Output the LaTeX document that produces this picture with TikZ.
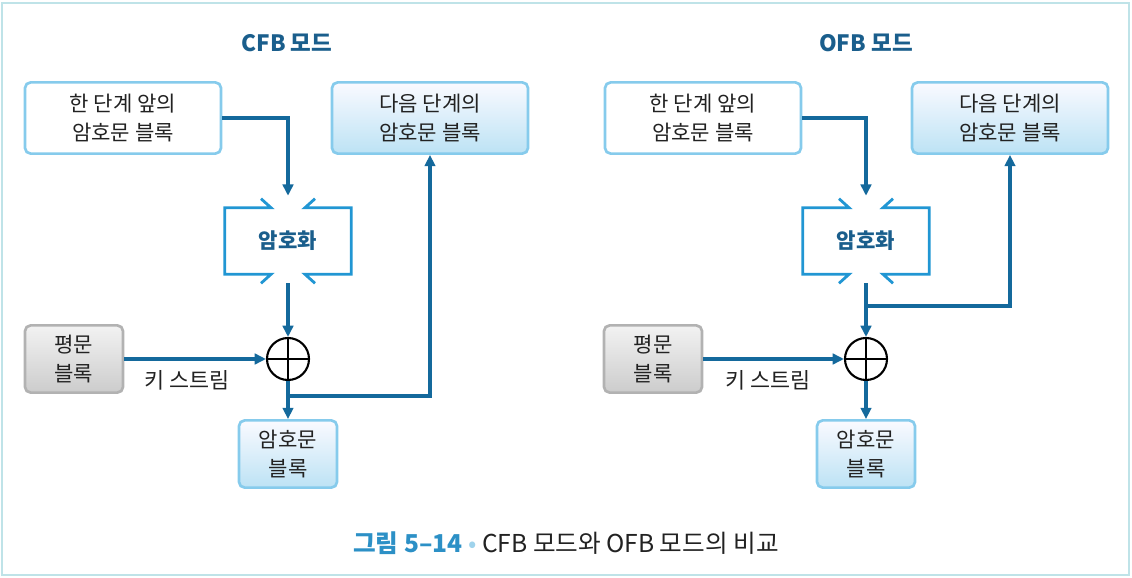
\documentclass[tikz,border=0pt]{standalone}
\usepackage{fontspec}
\setmainfont{Noto Sans CJK KR}
\usetikzlibrary{positioning,calc,arrows.meta}

\definecolor{flowblue}{HTML}{14699C}
\definecolor{edgeblue}{HTML}{86CBEC}
\definecolor{encblue}{HTML}{2196D3}
\definecolor{titleblue}{HTML}{1A5E8C}
\definecolor{capblue}{HTML}{2C90C6}
\definecolor{dotblue}{HTML}{9FD3EC}
\definecolor{framecol}{HTML}{BFE3E8}
\definecolor{textgray}{HTML}{222222}

\tikzset{
  block/.style={
    draw=edgeblue,
    line width=1.9pt,
    rounded corners=4pt,
    align=center,
    inner sep=0pt,
    text=textgray,
    font=\fontsize{15}{20.5}\selectfont
  },
  wideblock/.style={block, minimum width=4.9cm, minimum height=1.78cm},
  smallblock/.style={block, minimum width=2.45cm, minimum height=1.68cm},
  bluefill/.style={top color=blue!2!white, bottom color=edgeblue!55!white},
  grayfill/.style={draw=black!30, top color=black!5, bottom color=black!20},
  flow/.style={draw=flowblue, line width=2.5pt, -{Triangle[length=8pt,width=7.5pt]}},
  encline/.style={draw=encblue, line width=2pt},
  xor/.style={circle, draw=black, line width=1.5pt, minimum size=1.05cm, inner sep=0pt},
  heading/.style={text=titleblue, font=\fontsize{16}{18}\selectfont\bfseries}
}

\begin{document}
\begin{tikzpicture}[x=0.025cm, y=-0.025cm]

\useasboundingbox (0,0) rectangle (1132,578);
\draw[framecol, line width=1.5pt] (2,3) rectangle (1129,575);

% CFB
\node[heading] (CTitle) at (287, 43) {CFB 모드};

\node[wideblock, fill=white] (CPrev) at (123, 118) {한 단계 앞의\\암호문 블록};
\node[wideblock, bluefill] (CNext) at (430, 118) {다음 단계의\\암호문 블록};

\node[
    minimum width=3.15cm,
    minimum height=1.65cm,
    text=titleblue,
    font=\fontsize{15}{17}\selectfont\bfseries
  ] (CEnc) at (288, 241) {암호화};

  \draw[encline] ($ (CEnc.north) + (-27, -9) $) -- ($ (CEnc.north) + (-17, 0) $)
    -- (CEnc.north west) -- (CEnc.south west)
    -- ($ (CEnc.south) + (-17, 0) $) -- ($ (CEnc.south) + (-27, 9) $);
  \draw[encline] ($ (CEnc.north) + (27, -9) $) -- ($ (CEnc.north) + (17, 0) $)
    -- (CEnc.north east) -- (CEnc.south east)
    -- ($ (CEnc.south) + (17, 0) $) -- ($ (CEnc.south) + (27, 9) $);

\coordinate (CEncIn) at ($ (CEnc.north) + (0, -12) $);
\coordinate (CEncOut) at ($ (CEnc.south) + (0, 9) $);

\node[xor] (CXor) at (288, 359) {};
  \draw[line width=1.5pt] (CXor.north) -- (CXor.south) (CXor.west) -- (CXor.east);

\node[smallblock, grayfill] (CPlain) at (74, 359) {평문\\블록};
\node[text=textgray, font=\fontsize{15.5}{17}\selectfont] (CKey) at (187, 380) {키 스트림};
\node[smallblock, bluefill] (CCipher) at (288, 454) {암호문\\블록};

\coordinate (CJoin) at ($ (CXor.south) + (0, 15) $);

\draw[flow] (CPrev.east) -| (CEncIn);
\draw[flow] (CEncOut) -- (CXor.north);
\draw[flow] (CPlain.east) -- (CXor.west);
\draw[flow] (CXor.south) -- (CCipher.north);
\draw[flow] (CJoin) -| (CNext.south);

% OFB
\node[heading] (OTitle) at (866, 43) {OFB 모드};

\node[wideblock, fill=white] (OPrev) at (703, 118) {한 단계 앞의\\암호문 블록};
\node[wideblock, bluefill] (ONext) at (1010, 118) {다음 단계의\\암호문 블록};

\node[
    minimum width=3.15cm,
    minimum height=1.65cm,
    text=titleblue,
    font=\fontsize{15}{17}\selectfont\bfseries
  ] (OEnc) at (866, 241) {암호화};

  \draw[encline] ($ (OEnc.north) + (-27, -9) $) -- ($ (OEnc.north) + (-17, 0) $)
    -- (OEnc.north west) -- (OEnc.south west)
    -- ($ (OEnc.south) + (-17, 0) $) -- ($ (OEnc.south) + (-27, 9) $);
  \draw[encline] ($ (OEnc.north) + (27, -9) $) -- ($ (OEnc.north) + (17, 0) $)
    -- (OEnc.north east) -- (OEnc.south east)
    -- ($ (OEnc.south) + (17, 0) $) -- ($ (OEnc.south) + (27, 9) $);

\coordinate (OEncIn) at ($ (OEnc.north) + (0, -12) $);
\coordinate (OEncOut) at ($ (OEnc.south) + (0, 9) $);

\node[xor] (OXor) at (866, 359) {};
  \draw[line width=1.5pt] (OXor.north) -- (OXor.south) (OXor.west) -- (OXor.east);

\node[smallblock, grayfill] (OPlain) at (653, 359) {평문\\블록};
\node[text=textgray, font=\fontsize{15.5}{17}\selectfont] (OKey) at (768, 380) {키 스트림};
\node[smallblock, bluefill] (OCipher) at (866, 454) {암호문\\블록};

\coordinate (OJoin) at (OEncOut |- 0, 306);

\draw[flow] (OPrev.east) -| (OEncIn);
\draw[flow] (OEncOut) -- (OXor.north);
\draw[flow] (OPlain.east) -- (OXor.west);
\draw[flow] (OXor.south) -- (OCipher.north);
\draw[flow] (OJoin) -| (ONext.south);

% caption
\node[text=textgray, font=\fontsize{17.5}{20}\selectfont] (Caption) at (566, 543)
  {{\bfseries\color{capblue}그림 5–14} {\color{dotblue}•} CFB 모드와 OFB 모드의 비교};

\end{tikzpicture}
\end{document}
